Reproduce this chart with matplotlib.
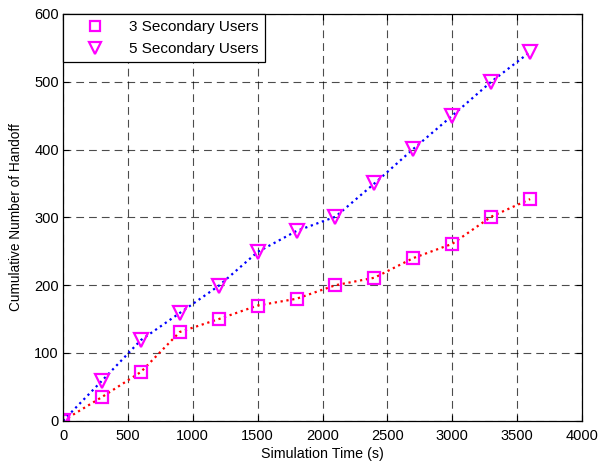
import matplotlib
matplotlib.use("Agg")
import matplotlib.pyplot as plt

plt.rcParams['font.family'] = ['Liberation Sans', 'DejaVu Sans']

time_s = [0, 300, 600, 900, 1200, 1500, 1800, 2100, 2400, 2700, 3000, 3300, 3600]
su3 = [0, 35, 72, 131, 150, 170, 180, 200, 211, 240, 261, 301, 327]
su5 = [0, 59, 119, 159, 199, 249, 280, 301, 350, 401, 450, 500, 544]
xticks = [0, 500, 1000, 1500, 2000, 2500, 3000, 3500, 4000]
yticks = [0, 100, 200, 300, 400, 500, 600]

fig = plt.figure(figsize=(6.0, 4.66), dpi=100)
ax = fig.add_axes([0.105, 0.097, 0.865, 0.873])

ax.plot(time_s, su3, color='red', linestyle=':', linewidth=1.6,
        marker='s', markersize=8, markerfacecolor='none',
        markeredgecolor='magenta', markeredgewidth=1.6, label='3 Secondary Users')
ax.plot(time_s, su5, color='blue', linestyle=':', linewidth=1.6,
        marker='v', markersize=9.5, markerfacecolor='none',
        markeredgecolor='magenta', markeredgewidth=1.6, label='5 Secondary Users')

ax.set_xlim(0, 4000)
ax.set_ylim(0, 600)
ax.set_xticks(xticks)
ax.set_yticks(yticks)
ax.grid(True, color='black', linestyle=(0, (7, 4.5)), linewidth=0.8, alpha=0.7)
ax.tick_params(direction='in', labelsize=10.5, top=True, right=True, length=4)
ax.tick_params(axis='x', pad=6)
ax.tick_params(axis='y', pad=3)
for s in ax.spines.values():
    s.set_linewidth(0.9)

ax.set_xlabel('Simulation Time (s)', fontsize=10.3, labelpad=3)
ax.set_ylabel('Cumulative Number of Handoff', fontsize=9.8, labelpad=8)

leg = ax.legend(loc='upper left', fontsize=11, fancybox=False, framealpha=1,
                edgecolor='black', borderaxespad=0, handlelength=3.3,
                handletextpad=0.6, borderpad=0.42, labelspacing=0.5,
                markerscale=0.9)
leg.get_frame().set_linewidth(0.9)
for h in leg.get_lines():
    h.set_linestyle('none')

fig.savefig('out.png', dpi=100)
